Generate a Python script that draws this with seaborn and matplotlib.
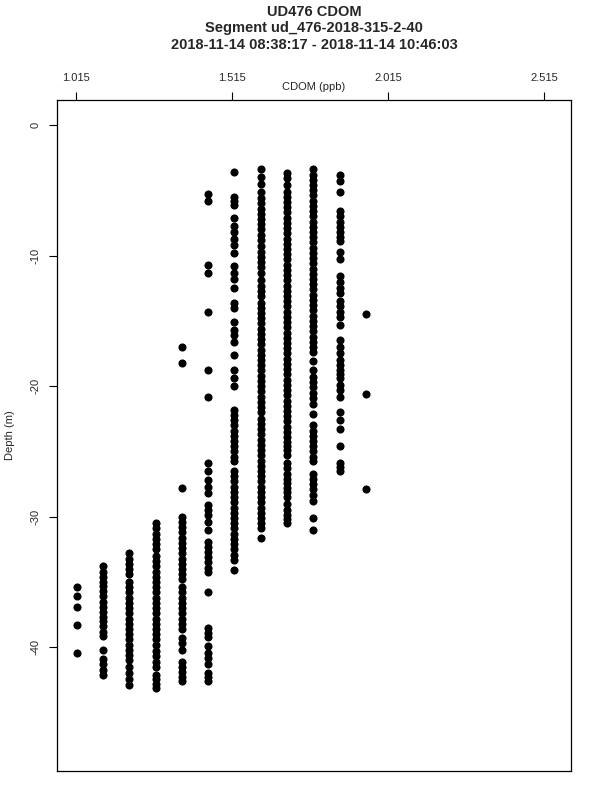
import matplotlib
matplotlib.use("Agg")
import matplotlib.pyplot as plt
import pandas as pd
import seaborn as sns

# CDOM sensor bins (ppb) and the depths (m) observed in each bin
cdom_bins = [1.016, 1.100, 1.185, 1.269, 1.353, 1.438,
             1.522, 1.606, 1.690, 1.775, 1.859, 1.943]

depth_1016 = [-35.4, -36.1, -36.9, -38.3, -40.4]
depth_1100 = [-33.8, -34.2, -34.6, -35.0, -35.3, -35.7, -36.1, -36.5, -36.9, -37.3,
              -37.7, -38.0, -38.4, -38.8, -39.1, -40.2, -40.9, -41.3, -41.7, -42.1]
depth_1185 = [-32.8, -33.2, -33.6, -34.0, -34.4, -35.0, -35.4, -35.8, -36.2, -36.6,
              -37.0, -37.4, -37.8, -38.2, -38.6, -39.0, -39.4, -39.8, -40.2, -40.6,
              -41.0, -41.5, -42.0, -42.4, -42.9]
depth_1269 = [-30.5, -30.9, -31.3, -31.7, -32.1, -32.5, -33.0, -33.4, -33.8, -34.2,
              -34.6, -35.0, -35.4, -35.8, -36.2, -36.6, -37.0, -37.4, -37.8, -38.2,
              -38.6, -39.0, -39.4, -39.8, -40.3, -40.7, -41.1, -41.5, -42.1, -42.4,
              -42.8, -43.1]
depth_1353 = [-17.0, -18.2, -27.8, -30.0, -30.4, -30.8, -31.2, -31.6, -32.0, -32.4,
              -32.8, -33.2, -33.6, -34.0, -34.4, -34.8, -35.4, -35.8, -36.2, -36.6,
              -37.0, -37.4, -37.8, -38.2, -38.6, -39.3, -39.7, -40.2, -41.1, -41.5,
              -41.9, -42.3, -42.6]
depth_1438 = [-5.3, -5.8, -10.7, -11.3, -14.3, -18.8, -20.8, -25.9, -26.5, -27.2,
              -27.7, -28.2, -29.1, -29.5, -29.9, -30.4, -31.0, -31.9, -32.3, -32.7,
              -33.1, -33.5, -33.9, -34.2, -35.8, -38.5, -38.9, -39.2, -39.9, -40.4,
              -40.8, -41.3, -42.0, -42.3, -42.6]
depth_1522 = [-3.6, -5.5, -5.8, -6.1, -7.1, -7.7, -8.2, -8.7, -9.2, -9.8,
              -10.8, -11.3, -11.8, -12.5, -13.6, -14.0, -15.1, -15.7, -16.1, -16.6,
              -17.6, -18.8, -19.4, -20.0, -21.8, -22.2, -22.6, -23.0, -23.4, -23.8,
              -24.2, -24.6, -25.0, -25.4, -25.7, -26.5, -26.9, -27.3, -27.7, -28.1,
              -28.5, -28.9, -29.3, -29.7, -30.1, -30.5, -30.9, -31.3, -31.7, -32.1,
              -32.5, -32.9, -33.3, -34.1]
depth_1606 = [-3.4, -4.0, -4.5, -5.1, -5.6, -6.0, -6.4, -6.8, -7.2, -7.6,
              -8.0, -8.4, -8.8, -9.3, -9.7, -10.1, -10.5, -10.9, -11.3, -11.9,
              -12.3, -12.7, -13.1, -13.6, -14.0, -14.4, -14.8, -15.2, -15.6, -16.0,
              -16.4, -16.8, -17.2, -17.6, -18.0, -18.4, -18.8, -19.2, -19.6, -20.0,
              -20.4, -20.8, -21.2, -21.6, -22.0, -22.5, -22.9, -23.3, -23.7, -24.1,
              -24.5, -24.9, -25.3, -25.7, -26.1, -26.5, -26.9, -27.3, -27.7, -28.1,
              -28.5, -28.9, -29.3, -29.7, -30.1, -30.5, -30.9, -31.6]
depth_1690 = [-3.7, -4.1, -4.6, -5.1, -5.5, -5.9, -6.3, -6.7, -7.1, -7.5,
              -7.9, -8.3, -8.7, -9.1, -9.5, -9.9, -10.3, -10.7, -11.1, -11.5,
              -11.9, -12.3, -12.7, -13.1, -13.5, -13.9, -14.3, -14.7, -15.1, -15.5,
              -15.9, -16.3, -16.7, -17.1, -17.5, -17.9, -18.3, -18.7, -19.1, -19.5,
              -19.9, -20.3, -20.7, -21.1, -21.5, -21.9, -22.3, -22.7, -23.1, -23.5,
              -23.9, -24.3, -24.6, -24.9, -25.3, -25.9, -26.3, -26.7, -27.1, -27.4,
              -27.8, -28.1, -28.5, -29.0, -29.5, -29.9, -30.2, -30.5]
depth_1775 = [-3.4, -3.8, -4.2, -4.6, -5.0, -5.4, -5.8, -6.2, -6.6, -7.0,
              -7.4, -7.8, -8.2, -8.6, -9.0, -9.4, -9.8, -10.2, -10.6, -11.0,
              -11.4, -11.8, -12.2, -12.6, -13.0, -13.4, -13.8, -14.2, -14.6, -15.0,
              -15.4, -15.8, -16.2, -16.6, -17.0, -17.4, -18.1, -18.8, -19.3, -19.7,
              -20.1, -20.5, -20.9, -21.4, -22.1, -23.0, -23.4, -23.8, -24.2, -24.6,
              -25.0, -25.4, -25.7, -26.7, -27.1, -27.5, -27.9, -28.3, -28.8, -30.1,
              -31.0]
depth_1859 = [-3.8, -4.3, -5.1, -6.6, -7.0, -7.4, -7.8, -8.2, -8.6, -8.9,
              -9.7, -10.3, -11.6, -12.0, -12.5, -12.9, -13.5, -13.9, -14.3, -14.7,
              -15.3, -16.5, -17.0, -17.5, -18.0, -18.4, -18.8, -19.1, -19.4, -19.9,
              -20.3, -20.8, -22.0, -22.6, -23.3, -24.6, -25.9, -26.2, -26.5]
depth_1943 = [-14.5, -20.6, -27.9]

depth_lists = [depth_1016, depth_1100, depth_1185, depth_1269, depth_1353, depth_1438,
               depth_1522, depth_1606, depth_1690, depth_1775, depth_1859, depth_1943]

x_ticks = [1.015, 1.515, 2.015, 2.515]
y_ticks = [0, -10, -20, -30, -40]

rows = []
for cdom, depths in zip(cdom_bins, depth_lists):
    for d in depths:
        rows.append({"cdom": cdom, "depth": d})
df = pd.DataFrame(rows)

sns.set_theme(style="white")
plt.rcParams["font.family"] = ["Liberation Sans", "DejaVu Sans"]

fig = plt.figure(figsize=(6, 8), dpi=100)
ax = fig.add_axes([57 / 600, 1 - 771 / 800, 514 / 600, 671 / 800])

sns.scatterplot(data=df, x="cdom", y="depth", ax=ax, color="black",
                s=34, linewidth=0, marker="o", legend=False)

ax.set_xlim(0.953, 2.601)
ax.set_ylim(-49.47, 1.91)
ax.set_xlabel("")
ax.set_ylabel("")

ax.xaxis.tick_top()
ax.set_xticks(x_ticks)
ax.set_xticklabels([f"{t:.3f}" for t in x_ticks])
ax.set_yticks(y_ticks)
ax.set_yticklabels([str(t) for t in y_ticks], rotation=90, va="center")
ax.tick_params(axis="x", which="both", top=True, bottom=False, direction="out",
               length=6, width=0.8, color="black", labelsize=8, pad=6)
ax.tick_params(axis="y", which="both", left=True, direction="out",
               length=6, width=0.8, color="black", labelsize=8, pad=6)
for sp in ax.spines.values():
    sp.set_color("black")
    sp.set_linewidth(0.9)

title_size = 10.5
fig.text(314 / 600, 1 - 12 / 800, "UD476 CDOM", ha="center", va="center",
         fontsize=title_size, fontweight="bold")
fig.text(314 / 600, 1 - 28 / 800, "Segment ud_476-2018-315-2-40", ha="center",
         va="center", fontsize=title_size, fontweight="bold")
fig.text(314 / 600, 1 - 45 / 800, "2018-11-14 08:38:17 - 2018-11-14 10:46:03",
         ha="center", va="center", fontsize=title_size, fontweight="bold")
fig.text(314 / 600, 1 - 87 / 800, "CDOM (ppb)", ha="center", va="center", fontsize=8)
fig.text(10 / 600, 1 - 435 / 800, "Depth (m)", ha="center", va="center",
         rotation=90, fontsize=8)

fig.savefig("out.png", dpi=100, facecolor="white")
